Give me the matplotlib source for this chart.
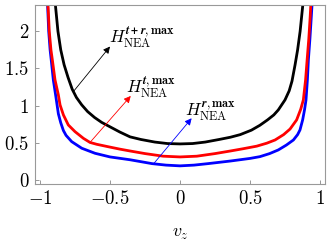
import matplotlib
matplotlib.use("Agg")
import matplotlib.pyplot as plt
from matplotlib.ticker import FixedLocator, FuncFormatter

plt.rcParams['mathtext.fontset'] = 'cm'
plt.rcParams['font.family'] = ['DejaVu Serif']

# Black curve: H_NEA^{t+r,max}
v_black = [-0.902, -0.890, -0.872, -0.852, -0.828, -0.800, -0.770, -0.740, -0.702, -0.660,
           -0.610, -0.560, -0.500, -0.430, -0.357, -0.280, -0.180, -0.090, 0.000,
           0.090, 0.180, 0.280, 0.360, 0.430, 0.510, 0.570, 0.625, 0.670, 0.702,
           0.750, 0.780, 0.800, 0.822, 0.840, 0.858, 0.877, 0.888]
h_black = [2.60, 2.35, 2.00, 1.75, 1.55, 1.38, 1.22, 1.11, 1.01, 0.92,
           0.84, 0.775, 0.715, 0.645, 0.58, 0.545, 0.51, 0.49, 0.485,
           0.49, 0.51, 0.545, 0.575, 0.61, 0.67, 0.735, 0.808, 0.875, 0.942,
           1.077, 1.20, 1.33, 1.55, 1.75, 2.00, 2.35, 2.60]

# Red curve: H_NEA^{t,max}
v_red = [-0.948, -0.943, -0.934, -0.922, -0.912, -0.893, -0.869, -0.857, -0.833, -0.798,
         -0.750, -0.690, -0.643, -0.595, -0.520, -0.430, -0.357, -0.250, -0.120, 0.000,
         0.120, 0.250, 0.360, 0.450, 0.548, 0.620, 0.679, 0.740, 0.786, 0.833,
         0.862, 0.881, 0.897, 0.908, 0.920, 0.930, 0.937, 0.942]
h_red = [2.60, 2.35, 2.00, 1.75, 1.615, 1.346, 1.144, 1.01, 0.875, 0.74,
         0.65, 0.56, 0.505, 0.48, 0.45, 0.415, 0.39, 0.355, 0.32, 0.31,
         0.32, 0.355, 0.39, 0.42, 0.455, 0.495, 0.538, 0.61, 0.685, 0.808,
         0.95, 1.077, 1.346, 1.615, 1.90, 2.20, 2.45, 2.60]

# Blue curve: H_NEA^{r,max}
v_blue = [-0.952, -0.946, -0.938, -0.928, -0.920, -0.905, -0.886, -0.869, -0.852, -0.833,
          -0.814, -0.774, -0.702, -0.607, -0.500, -0.357, -0.200, -0.100, 0.000,
          0.100, 0.200, 0.360, 0.500, 0.571, 0.640, 0.702, 0.760, 0.810, 0.840,
          0.857, 0.876, 0.890, 0.900, 0.910, 0.917, 0.928, 0.938, 0.946, 0.952]
h_blue = [2.60, 2.35, 2.00, 1.75, 1.615, 1.346, 1.11, 0.89, 0.77, 0.665,
          0.60, 0.516, 0.427, 0.359, 0.31, 0.272, 0.22, 0.20, 0.19,
          0.20, 0.22, 0.255, 0.29, 0.314, 0.355, 0.404, 0.47, 0.538, 0.61,
          0.673, 0.808, 0.95, 1.077, 1.35, 1.615, 1.90, 2.20, 2.45, 2.60]

x_ticks = [-1, -0.5, 0, 0.5, 1]
y_ticks = [0, 0.5, 1, 1.5, 2]

labels = [r"$H^{\mathbfit{t+r},\mathbf{max}}_{\mathrm{NEA}}$",
          r"$H^{\mathbfit{t},\mathbf{max}}_{\mathrm{NEA}}$",
          r"$H^{\mathbfit{r},\mathbf{max}}_{\mathrm{NEA}}$"]
arrow_tails = [(-0.757, 1.20), (-0.643, 0.505), (-0.19, 0.215)]
arrow_heads = [(-0.50, 1.795), (-0.352, 1.13), (0.083, 0.83)]
label_pos = [(-0.51, 1.92), (-0.386, 1.25), (0.036, 0.92)]
colors = ['black', 'red', 'blue']

fig = plt.figure(figsize=(3.31, 2.50), dpi=100)
ax = fig.add_axes([0.1057, 0.264, 0.8763, 0.715])

ax.plot(v_blue, h_blue, color='blue', lw=2.0)
ax.plot(v_red, h_red, color='red', lw=2.0)
ax.plot(v_black, h_black, color='black', lw=2.0)

for lab, tail, head, lp, c in zip(labels, arrow_tails, arrow_heads, label_pos, colors):
    ax.annotate("", xy=head, xytext=tail,
                arrowprops=dict(arrowstyle='-|>', color=c, lw=0.6, mutation_scale=10,
                                shrinkA=0, shrinkB=0))
    ax.text(lp[0], lp[1], lab, fontsize=12.5, ha='left', va='center', color='black')

ax.set_xlim(-1.036, 1.036)
ax.set_ylim(-0.054, 2.35)

def fmt(v, pos):
    return '$%g$' % v

ax.xaxis.set_major_locator(FixedLocator(x_ticks))
ax.yaxis.set_major_locator(FixedLocator(y_ticks))
ax.xaxis.set_major_formatter(FuncFormatter(fmt))
ax.yaxis.set_major_formatter(FuncFormatter(fmt))
ax.tick_params(direction='in', length=3, width=0.6, color='#888888', labelsize=13.5)
ax.tick_params(axis='x', pad=4)
ax.tick_params(axis='y', pad=4)
for s in ax.spines.values():
    s.set_color('#999999')
    s.set_linewidth(0.8)

ax.set_xlabel(r"$v_z$", fontsize=13, labelpad=12)

fig.savefig("out.png", dpi=100)
